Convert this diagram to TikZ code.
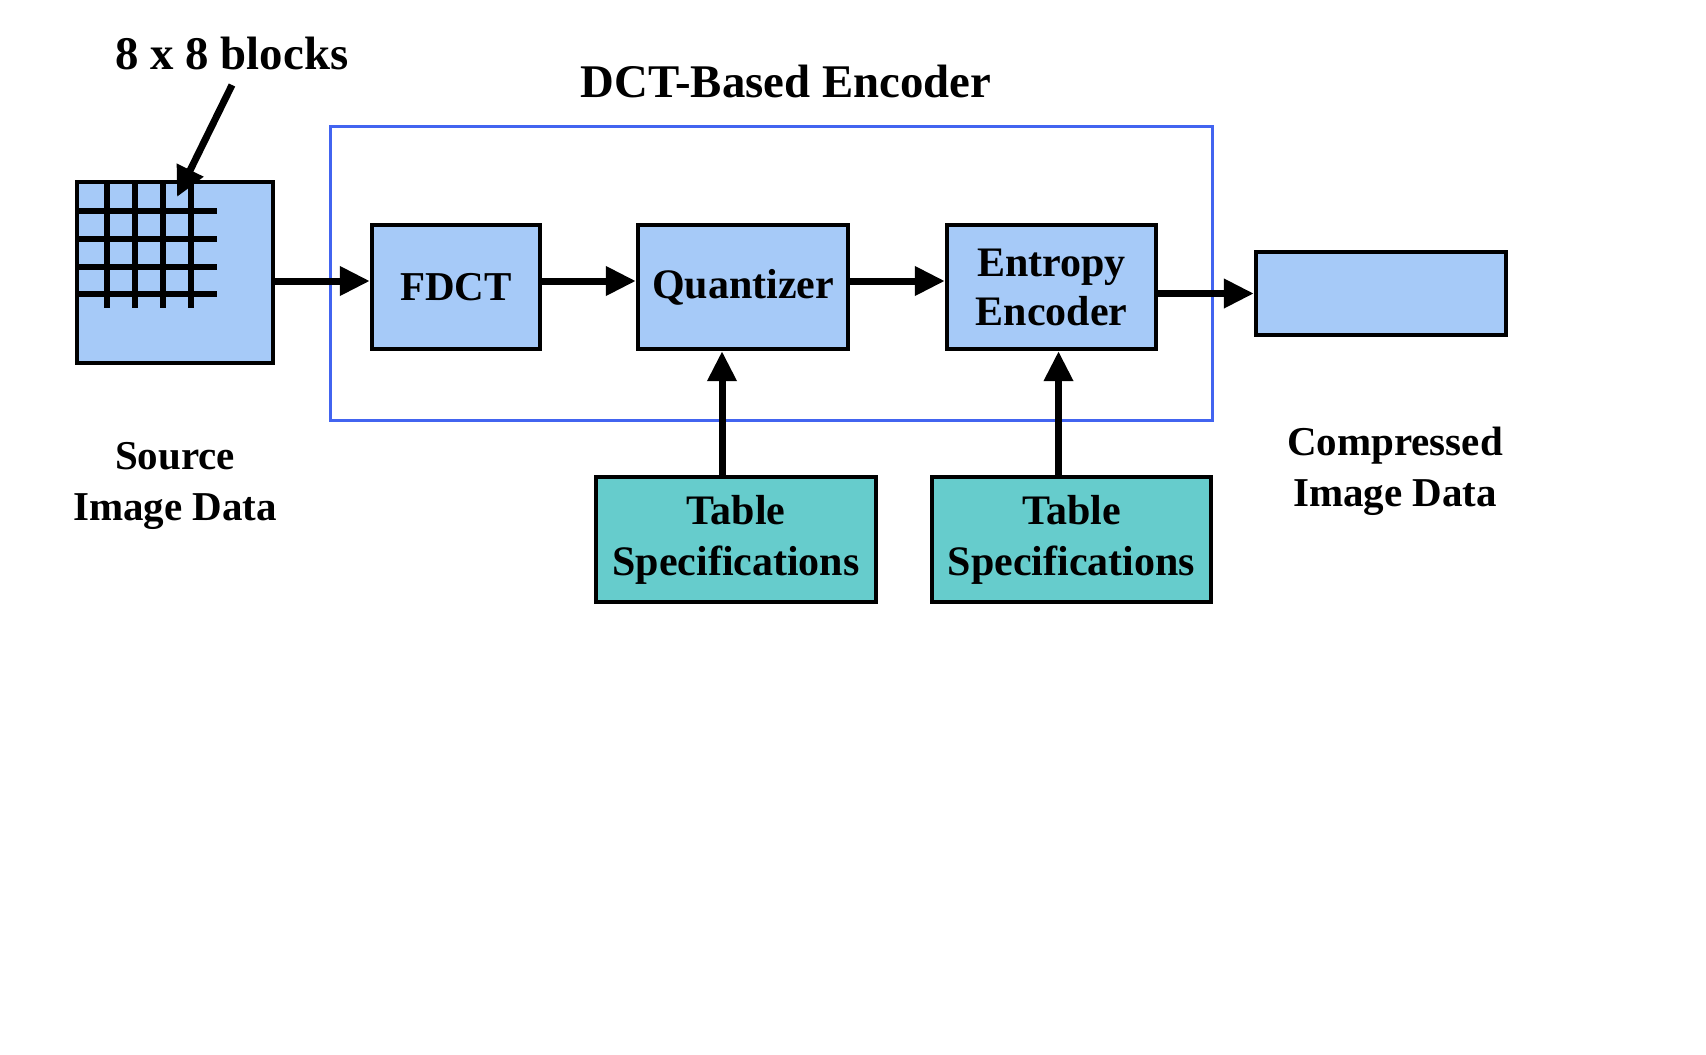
\documentclass[tikz,border=0pt]{standalone}
\usepackage{fontspec}
\setmainfont{Liberation Serif}
\usetikzlibrary{arrows.meta}
\definecolor{boxblue}{RGB}{166,202,248}
\definecolor{boxteal}{RGB}{102,204,204}
\definecolor{frameblue}{RGB}{66,100,240}
\tikzset{
  blk/.style={draw=black, line width=2.2pt, fill=boxblue, rectangle, inner sep=0pt, align=center, font=\bfseries\fontsize{21}{24.5}\selectfont},
  tbl/.style={blk, fill=boxteal, font=\bfseries\fontsize{21}{25.5}\selectfont},
  arr/.style={line width=3.5pt, -{Triangle[length=15pt,width=14pt]}},
  lbl/.style={align=center, inner sep=0pt, font=\bfseries\fontsize{20.5}{25.5}\selectfont},
  ttl/.style={inner sep=0pt, font=\bfseries\fontsize{23.4}{27}\selectfont},
  gridline/.style={line width=2.6pt}
}
\begin{document}
\begin{tikzpicture}[x=0.5pt,y=-0.5pt]
\useasboundingbox (0,0) rectangle (1706,1054);
\fill[white] (0,0) rectangle (1706,1054);
% encoder frame
\draw[frameblue, line width=1.5pt] (330,126) rectangle (1212,420);
% nodes
\node[blk, minimum width=98pt, minimum height=90.5pt] (src) at (175,272.5) {};
\node[blk, minimum width=84pt, minimum height=62pt] (fdct) at (456,287) {\fontsize{20.5}{24.5}\selectfont FDCT};
\node[blk, minimum width=105pt, minimum height=62pt] (quant) at (743,287) {Quantizer};
\node[blk, minimum width=104.5pt, minimum height=62pt] (ent) at (1051.5,287) {Entropy\\Encoder};
\node[blk, minimum width=125pt, minimum height=41.5pt] (out) at (1381,293.5) {};
\node[tbl, minimum width=140pt, minimum height=62.5pt] (tab1) at (736,539.5) {Table\\Specifications};
\node[tbl, minimum width=139.5pt, minimum height=62.5pt] (tab2) at (1071.5,539.5) {Table\\Specifications};
% grid
\foreach \x in {107,135,163,191} \draw[gridline] (\x,182) -- (\x,308);
\foreach \y in {211,239,267,294} \draw[gridline] (77,\y) -- (217,\y);
% labels
\node[ttl] (title) at (786,81) {DCT-Based Encoder};
\node[ttl] (blocks) at (232,53) {8 x 8 blocks};
\node[lbl] (srclbl) at (175,486) {Source\\Image Data};
\node[lbl] (outlbl) at (1395,471) {Compressed\\Image Data};
% connectors
\coordinate (bstart) at (232,85);
\coordinate (btip) at (177,197);
\draw[arr] (bstart) -- (btip);
\draw[arr] ([yshift=3pt]fdct.west -| src.east) -- ([yshift=3pt]fdct.west);
\draw[arr] ([yshift=3pt]fdct.east) -- ([yshift=3pt]quant.west);
\draw[arr] ([yshift=3pt]quant.east) -- ([yshift=3pt]ent.west);
\draw[arr] (out.west -| ent.east) -- (out.west);
\draw[arr] ([xshift=-7pt]tab1.north) -- ([xshift=-7pt]tab1.north |- quant.south);
\draw[arr] ([xshift=-6.5pt]tab2.north) -- ([xshift=-6.5pt]tab2.north |- ent.south);
\end{tikzpicture}
\end{document}
